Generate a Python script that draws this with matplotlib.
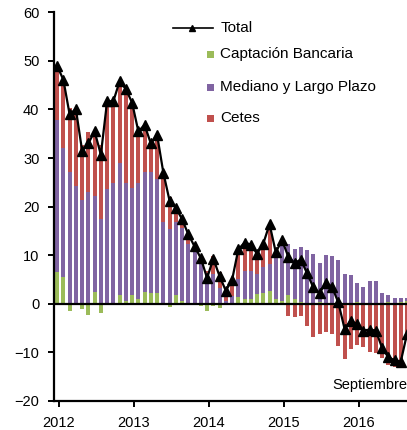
import numpy as np
import matplotlib
matplotlib.use("Agg")
import matplotlib.pyplot as plt
from matplotlib.lines import Line2D
from matplotlib.patches import Rectangle

plt.rcParams['font.family'] = ['Liberation Sans', 'DejaVu Sans']

# Monthly data, January 2012 - September 2016 (billions)
captacion = [6.6, 5.5, -1.4, 0.0, -1.1, -2.3, 2.5, -1.9, 0.0, 0.0,
             1.8, 0.5, 1.9, 1.0, 2.5, 2.2, 2.2, 0.0, -0.7, 1.8,
             0.6, 0.0, -0.3, -0.4, -1.4, -0.5, -0.8, 0.0, 0.0, 1.4,
             1.0, 1.0, 2.0, 2.3, 2.7, 1.0, 0.6, 1.8, 1.0, 0.4,
             0.0, 0.0, 0.3, 0.0, 0.0, 0.0, -0.3, 0.0, 0.3, 0.0,
             -0.3, 0.0, 0.0, 0.4, 0.0, 0.4, 0.5]
mediano_largo = [31.2, 26.6, 27.2, 24.2, 21.4, 23.0, 19.7, 17.4, 23.6, 24.9,
                 27.1, 24.3, 22.0, 23.8, 24.7, 25.0, 23.4, 16.9, 15.3, 15.0,
                 15.1, 12.3, 11.6, 8.5, 6.1, 6.1, 3.2, 0.5, 1.6, 3.7,
                 5.7, 5.8, 4.1, 5.2, 5.5, 9.5, 12.5, 10.5, 10.2, 11.2,
                 11.0, 10.3, 8.1, 10.0, 9.8, 9.0, 6.2, 5.9, 4.0, 3.4,
                 4.6, 4.6, 2.2, 1.4, 1.3, 0.9, 0.7]
cetes = [11.2, 14.0, 13.2, 15.9, 11.2, 12.3, 13.3, 15.2, 18.1, 16.8,
         16.9, 19.4, 17.5, 10.7, 9.6, 5.8, 9.2, 10.1, 6.6, 3.0,
         1.7, 2.0, 0.5, 1.3, 0.6, 3.7, 3.3, 2.2, 3.3, 6.1,
         6.0, 5.6, 4.5, 5.0, 8.3, 0.0, 0.0, -2.6, -2.8, -2.5,
         -4.6, -6.9, -6.2, -5.7, -6.3, -8.7, -11.0, -9.4, -8.5, -8.9,
         -9.6, -10.1, -11.2, -12.6, -12.9, -13.2, -7.4]
total = [49.0, 46.1, 39.0, 40.1, 31.5, 33.0, 35.5, 30.7, 41.7, 41.7,
         45.8, 44.2, 41.4, 35.5, 36.8, 33.0, 34.8, 27.0, 21.2, 19.8,
         17.4, 14.3, 11.8, 9.4, 5.3, 9.3, 5.7, 2.7, 4.9, 11.2,
         12.6, 12.2, 10.3, 12.4, 16.4, 10.6, 13.1, 9.7, 8.4, 9.1,
         6.3, 3.4, 2.2, 4.3, 3.5, 0.3, -5.1, -3.5, -4.2, -5.5,
         -5.3, -5.5, -9.0, -11.0, -11.6, -11.9, -6.2]
years = ["2012", "2013", "2014", "2015", "2016"]

series = [
    ("Captación Bancaria", captacion, "#9BBB59"),
    ("Mediano y Largo Plazo", mediano_largo, "#8064A2"),
    ("Cetes", cetes, "#C0504D"),
]

W, H = 407, 430
fig = plt.figure(figsize=(W / 100, H / 100), dpi=100)
ax = fig.add_axes([54 / W, 1 - 401 / H, (W - 54) / W, (401 - 12.3) / H])

x = np.arange(len(total))
pos_base = np.zeros(len(x))
neg_base = np.zeros(len(x))
for name, vals, color in series:
    v = np.asarray(vals, dtype=float)
    bottom = np.where(v >= 0, pos_base, neg_base)
    ax.bar(x, v, bottom=bottom, width=0.64, color=color, linewidth=0, zorder=2)
    pos_base += np.where(v >= 0, v, 0)
    neg_base += np.where(v < 0, v, 0)

ax.axhline(0, color="black", lw=1.6, zorder=3)
ax.plot(x, total, color="black", lw=1.6, marker="^", markersize=7.5,
        markerfacecolor="black", markeredgecolor="black", zorder=4)

ax.set_xlim(-0.5, 56.0)
ax.set_ylim(-20, 60)
ax.set_yticks(range(-20, 61, 10))
ax.set_xticks([12 * k + 0.25 for k in range(len(years))])
ax.set_xticklabels(years)

for side in ("top", "right"):
    ax.spines[side].set_visible(False)
for side in ("left", "bottom"):
    ax.spines[side].set_linewidth(1.6)
    ax.spines[side].set_color("black")
ax.tick_params(axis="both", direction="out", length=4.5, width=1.4,
               labelsize=10.5, pad=6, colors="black")

ax.text(56.0, -16.7, "Septiembre", fontsize=10.5, ha="right", va="center")

# Legend drawn in figure pixel coordinates
def fx(px):
    return px / W

def fy(py):
    return 1 - py / H

fig.add_artist(Line2D([fx(173), fx(213)], [fy(28), fy(28)], color="black", lw=1.2))
fig.add_artist(Line2D([fx(192)], [fy(28)], color="black", marker="^",
                      markersize=4.5, lw=0))
fig.text(fx(221), fy(28), "Total", fontsize=11, va="center", ha="left")
for (name, _, color), py in zip(series, [54, 87, 118]):
    fig.add_artist(Rectangle((fx(206.5), fy(py + 3.5)), 7 / W, 7 / H,
                             transform=fig.transFigure, facecolor=color,
                             edgecolor="none"))
    fig.text(fx(220), fy(py), name, fontsize=11, va="center", ha="left")

fig.savefig("out.png", dpi=100)
